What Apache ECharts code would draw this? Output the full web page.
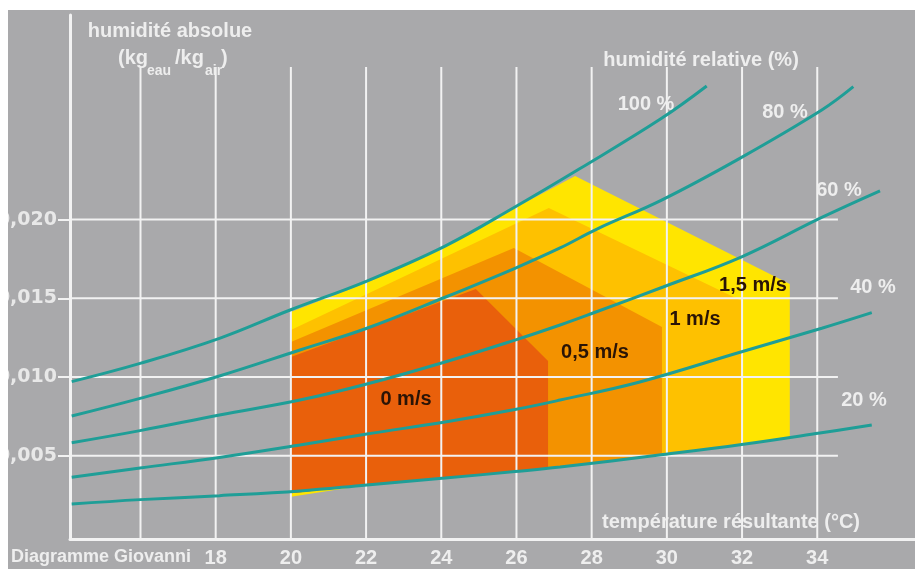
<!DOCTYPE html>
<html><head><meta charset="utf-8">
<script src="https://cdn.jsdelivr.net/npm/echarts@6/dist/echarts.min.js"></script>
<style>html,body{margin:0;padding:0;background:#ffffff;overflow:hidden;}#c{position:absolute;left:8px;top:10px;width:907px;height:559px;}</style>
</head><body><div id="c"></div>
<script>
// ---- data ----
const tempTicks = [18, 20, 22, 24, 26, 28, 30, 32, 34];
const humTicks = [0.005, 0.010, 0.015, 0.020];
const gridTemps = [16, 18, 20, 22, 24, 26, 28, 30, 32, 34];

// relative humidity curves [temperature °C, kg_eau/kg_air]
const rh100 = [[14.17,0.00971],[15.99,0.01087],[18.10,0.01246],[19.98,0.01426],[22.02,0.01610],[24.10,0.01832],[25.96,0.02080],[27.69,0.02324],[29.86,0.02643],[31.06,0.02848]];
const rh80 = [[14.17,0.00753],[15.99,0.00865],[18.10,0.01007],[20.24,0.01172],[22.02,0.01310],[24.10,0.01507],[25.96,0.01691],[27.16,0.01820],[28.14,0.01940],[29.86,0.02124],[31.94,0.02389],[34.12,0.02696],[34.96,0.02844]];
const rh60 = [[14.17,0.00583],[15.99,0.00660],[18.10,0.00759],[20.24,0.00854],[22.02,0.00956],[24.10,0.01096],[25.96,0.01235],[27.16,0.01331],[28.04,0.01407],[29.90,0.01572],[31.99,0.01764],[34.12,0.02014],[35.67,0.02183]];
const rh40 = [[14.17,0.00364],[15.99,0.00423],[18.10,0.00490],[20.24,0.00569],[22.02,0.00639],[24.10,0.00715],[25.96,0.00794],[27.16,0.00854],[29.28,0.00969],[31.99,0.01161],[34.12,0.01310],[35.45,0.01409]];
const rh20 = [[14.17,0.00194],[15.99,0.00222],[18.10,0.00247],[20.24,0.00277],[22.02,0.00315],[24.10,0.00359],[25.96,0.00400],[27.16,0.00429],[29.90,0.00508],[31.99,0.00572],[34.07,0.00645],[35.45,0.00696]];
const rhNames = ['100 %', '80 %', '60 %', '40 %', '20 %'];

// comfort zones by air speed (polygon vertices)
const zone15 = [[20.0,0.00240],[20.0,0.01413],[22.02,0.01600],[24.10,0.01832],[25.96,0.02074],[27.56,0.02277],[33.27,0.01591],[33.27,0.00620],[31.99,0.00572],[29.90,0.00508],[27.16,0.00429],[24.10,0.00359],[22.02,0.00315]];
const zone10 = [[20.0,0.00262],[20.0,0.01299],[26.86,0.02074],[32.0,0.01483],[32.0,0.00572],[29.90,0.00508],[27.16,0.00429],[24.10,0.00359],[22.02,0.00315]];
const zone05 = [[20.0,0.00262],[20.0,0.01223],[25.93,0.01820],[29.87,0.01318],[29.87,0.00508],[27.16,0.00429],[24.10,0.00359],[22.02,0.00315]];
const zone00 = [[20.0,0.00262],[20.0,0.01127],[24.92,0.01559],[26.84,0.01102],[26.84,0.00421],[24.10,0.00359],[22.02,0.00315]];
const zoneNames = ['1,5 m/s', '1 m/s', '0,5 m/s', '0 m/s'];

// ---- chart ----
const X_MIN = 14.125, X_MAX = 36.6, Y_MIN = -0.00028, Y_MAX = 0.03299;
const GRID_TOP_V = 0.02969, GRID_RIGHT_T = 34.55;
const TEAL = '#1f9e97';
const WHITE = '#f2f2f2';
const chart = echarts.init(document.getElementById('c'));

function zoneSeries(pts, color, z) {
  return {
    type: 'custom', z: z, silent: true, data: pts,
    renderItem: function (params, api) {
      if (params.dataIndex !== 0) return null;
      return { type: 'polygon', shape: { points: pts.map(function (p) { return api.coord(p); }) }, style: { fill: color } };
    }
  };
}
function curve(pts) {
  return { type: 'line', data: pts, smooth: 0.4, showSymbol: false, silent: true, z: 6,
    lineStyle: { color: TEAL, width: 3 } };
}
function text(t, x, y, extra) {
  return { type: 'text', x: x - 8, y: y - 10, z: 100, silent: true,
    style: Object.assign({ text: t, fill: '#eeeeee', font: 'bold 20px "Liberation Sans", Arial, sans-serif', align: 'center', verticalAlign: 'middle' }, extra || {}) };
}
const dark = { fill: '#2a1406' };
const sub = 'bold 14px "Liberation Sans", Arial, sans-serif';

chart.setOption({
  backgroundColor: '#a9a9ab',
  animation: false,
  grid: { left: 62, right: 0, top: 5, bottom: 30, containLabel: false, outerBoundsMode: 'none' },
  xAxis: {
    type: 'value', min: X_MIN, max: X_MAX,
    axisLine: { show: true, onZero: false, lineStyle: { color: WHITE, width: 3 } },
    axisTick: { show: false },
    splitLine: { show: false },
    axisLabel: { customValues: tempTicks, margin: 9, color: '#eeeeee',
      fontFamily: '"Liberation Sans", Arial, sans-serif', fontWeight: 'bold', fontSize: 20 }
  },
  yAxis: {
    type: 'value', min: Y_MIN, max: Y_MAX,
    axisLine: { show: true, onZero: false, lineStyle: { color: WHITE, width: 3 } },
    axisTick: { show: true, customValues: humTicks, length: 12, inside: false, lineStyle: { color: WHITE, width: 2 } },
    splitLine: { show: false },
    axisLabel: { customValues: humTicks, margin: 13, color: '#e8e8e8',
      fontFamily: '"DejaVu Sans", sans-serif', fontWeight: 'bold', fontSize: 19,
      formatter: function (v) { return v.toFixed(3).replace('.', ','); } }
  },
  series: [
    zoneSeries(zone15, '#ffe500', 1),
    zoneSeries(zone10, '#fec100', 2),
    zoneSeries(zone05, '#f39200', 3),
    zoneSeries(zone00, '#e9600b', 4),
    {
      type: 'custom', z: 5, silent: true, data: gridTemps.map(function (t) { return [t]; }),
      renderItem: function (params, api) {
        const t = api.value(0);
        const a = api.coord([t, Y_MIN]), b = api.coord([t, GRID_TOP_V]);
        return { type: 'line', shape: { x1: a[0], y1: a[1], x2: b[0], y2: b[1] }, style: { stroke: WHITE, lineWidth: 2 } };
      }
    },
    {
      type: 'custom', z: 5, silent: true, data: humTicks.map(function (v) { return [X_MIN, v]; }),
      renderItem: function (params, api) {
        const v = api.value(1);
        const a = api.coord([X_MIN, v]), b = api.coord([GRID_RIGHT_T, v]);
        return { type: 'line', shape: { x1: a[0], y1: a[1], x2: b[0], y2: b[1] }, style: { stroke: WHITE, lineWidth: 2 } };
      }
    },
    curve(rh100), curve(rh80), curve(rh60), curve(rh40), curve(rh20)
  ],
  graphic: [
    text('humidité absolue', 170, 31),
    text('(kg', 118, 58, { align: 'left' }),
    text('eau', 147, 71, { align: 'left', font: sub }),
    text('/kg', 175, 58, { align: 'left' }),
    text('air', 205, 71, { align: 'left', font: sub }),
    text(')', 221, 58, { align: 'left' }),
    text('humidité relative (%)', 701, 60),
    text(rhNames[0], 646, 104),
    text(rhNames[1], 785, 112),
    text(rhNames[2], 839, 190),
    text(rhNames[3], 873, 287),
    text(rhNames[4], 864, 400),
    text(zoneNames[3], 406, 399, dark),
    text(zoneNames[2], 595, 352, dark),
    text(zoneNames[1], 695, 319, dark),
    text(zoneNames[0], 753, 285, dark),
    text('température résultante (°C)', 731, 522),
    text('Diagramme Giovanni', 191, 557, { align: 'right', font: 'bold 18px "Liberation Sans", Arial, sans-serif' })
  ]
});
</script>
</body></html>
